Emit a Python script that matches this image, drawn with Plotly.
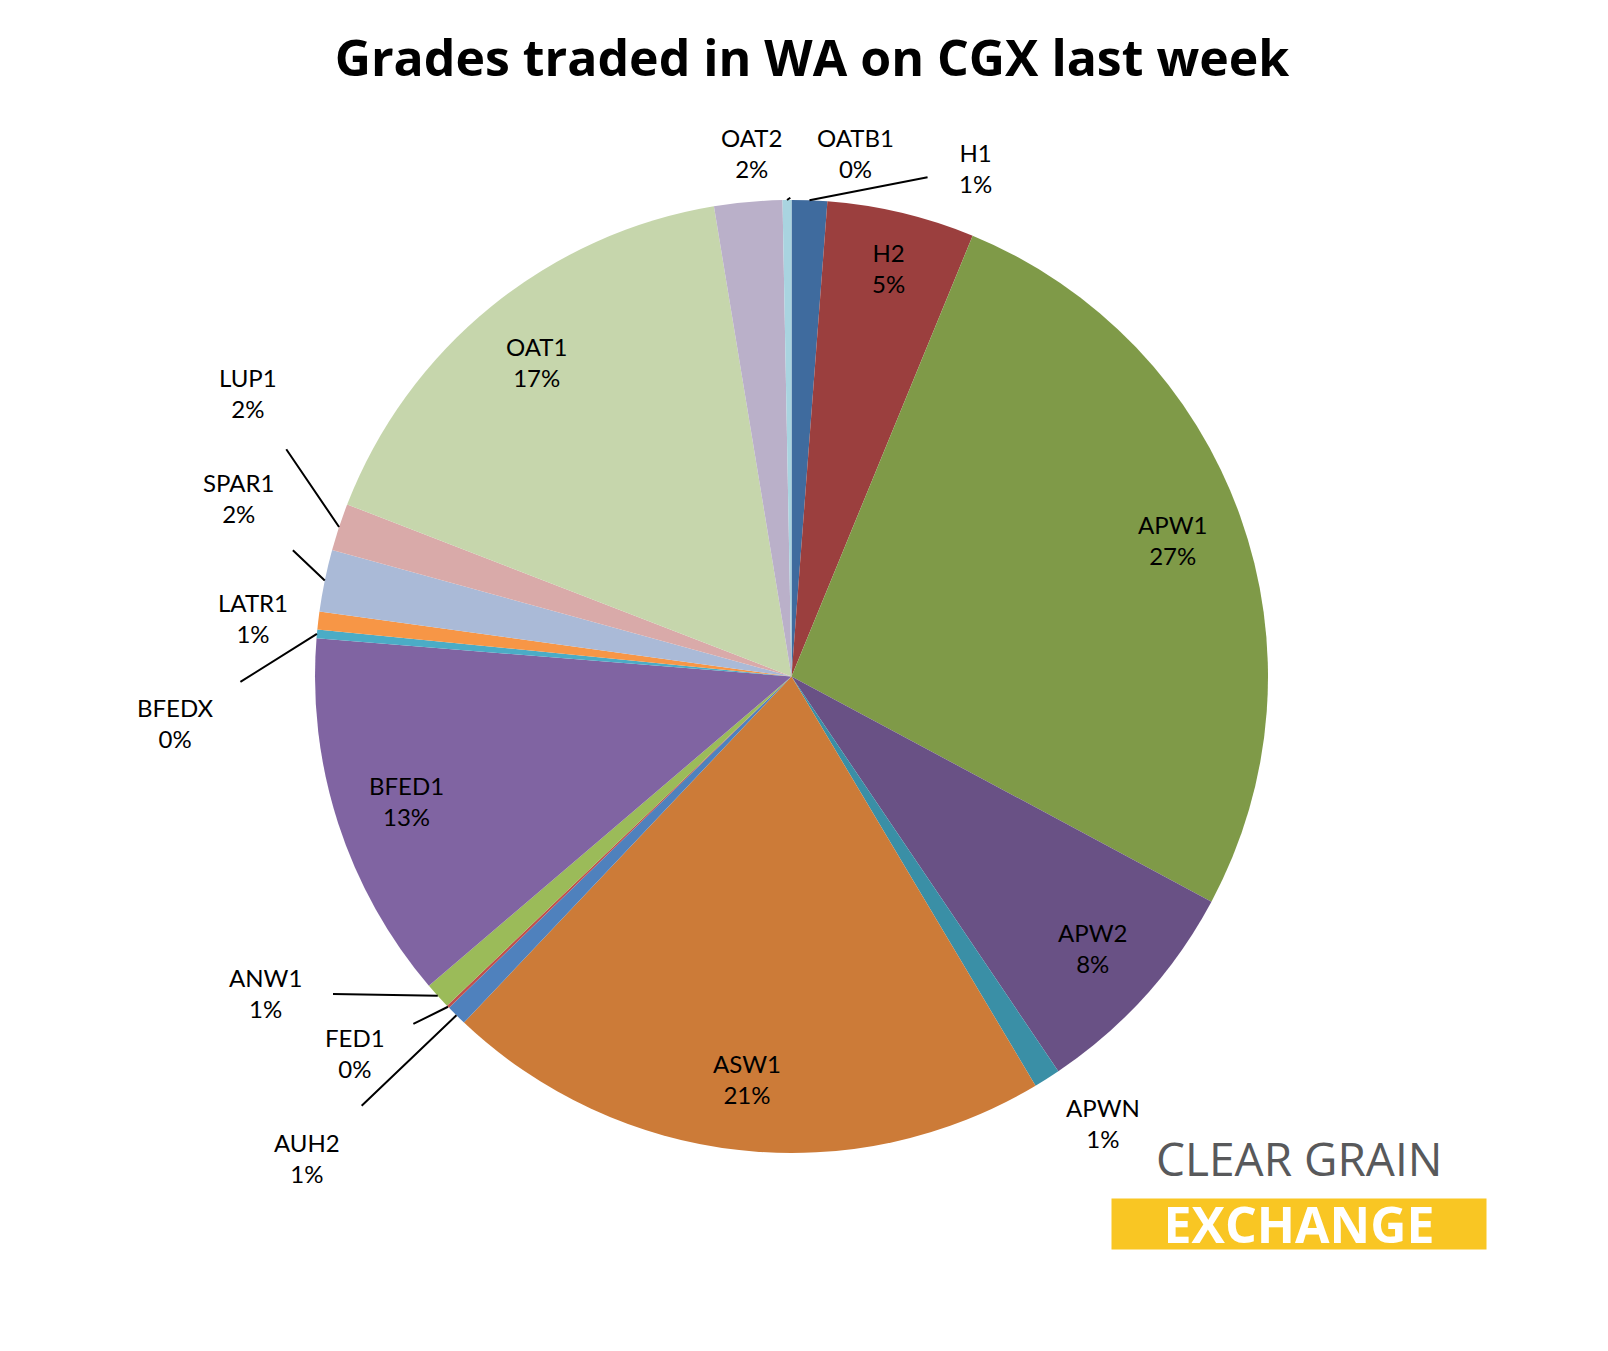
import numpy as np
import plotly.graph_objects as go

grades = ["H1", "H2", "APW1", "APW2", "APWN", "ASW1", "AUH2", "FED1", "ANW1", "BFED1",
          "BFEDX", "LATR1", "SPAR1", "LUP1", "OAT1", "OAT2", "OATB1"]
shares = [1.2, 5.0, 26.6, 7.7, 0.9, 20.6, 0.7, 0.1, 0.9, 12.5,
          0.3, 0.6, 2.1, 1.6, 16.5, 2.3, 0.3]
colours = ["#3f6b9e", "#9b3f3e", "#7f9a48", "#695185", "#3a8fa6", "#cc7b38", "#4f81bd", "#c0504d",
           "#9bbb59", "#8064a2", "#4bacc6", "#f79646", "#aabad7", "#d9aaa9", "#c6d6ac", "#bab0c9", "#a9d4e0"]
big = ["H2", "APW1", "APW2", "ASW1", "BFED1", "OAT1"]

# where the outside labels sit (pixels in the 1608x1351 page)
label_px = {"H1": (967, 160), "OATB1": (847, 145), "OAT2": (743, 145), "LUP1": (240, 385),
            "SPAR1": (230, 490), "LATR1": (245, 610), "BFEDX": (167, 715), "ANW1": (257, 985),
            "FED1": (347, 1045), "AUH2": (299, 1150), "APWN": (1095, 1115)}
no_line = ["OAT2", "APWN"]

W, H = 1608, 1351
cx, cy, r = 783.5, 668.5, 476.5

fig = go.Figure(go.Pie(
    labels=grades, values=shares, sort=False, direction="clockwise", rotation=0,
    marker=dict(colors=colours, line=dict(width=0)),
    textinfo="none", showlegend=False, hoverinfo="label+percent",
    domain=dict(x=[(cx - r) / W, (cx + r) / W], y=[1 - (cy + r) / H, 1 - (cy - r) / H]),
))

total = sum(shares)
cum = np.cumsum([0] + shares)
font = dict(size=24, color="black")
annos = []
for i, g in enumerate(grades):
    mid = (cum[i] + cum[i + 1]) / 2 / total * 2 * np.pi
    pct = round(shares[i] / total * 100)
    text = f"{g}<br>{pct}%"
    if g in big:
        k = 0.88 if g == "H2" else 0.85
        px_, py_ = cx + k * r * np.sin(mid), cy - k * r * np.cos(mid)
        annos.append(dict(x=px_ / W, y=1 - py_ / H, xref="paper", yref="paper", text=text,
                          showarrow=False, xanchor="center", yanchor="middle", font=font))
        continue
    lx, ly = label_px[g]
    if g in no_line:
        annos.append(dict(x=lx / W, y=1 - ly / H, xref="paper", yref="paper", text=text,
                          showarrow=False, xanchor="center", yanchor="middle", font=font))
        continue
    ex, ey = cx + r * np.sin(mid), cy - r * np.cos(mid)
    annos.append(dict(x=ex / W, y=1 - ey / H, xref="paper", yref="paper", text=text,
                      showarrow=True, ax=lx - ex, ay=ly - ey, arrowhead=0, arrowwidth=2,
                      arrowcolor="black", font=font, standoff=0, startstandoff=30))

# logo
annos.append(dict(x=1291 / W, y=1 - 1150 / H, xref="paper", yref="paper", text="CLEAR GRAIN",
                  showarrow=False, xanchor="center", yanchor="middle", borderpad=0,
                  font=dict(size=46, color="#58595b", family="Open Sans")))
annos.append(dict(x=1291 / W, y=1 - 1216 / H, xref="paper", yref="paper", text="<b>EXCHANGE</b>",
                  showarrow=False, xanchor="center", yanchor="middle",
                  bgcolor="#f9c623", width=374, height=50, borderpad=0,
                  font=dict(size=50, color="white", family="Open Sans")))

fig.update_layout(
    width=W, height=H, margin=dict(l=0, r=0, t=0, b=0),
    paper_bgcolor="white", font=dict(family="Lato, Open Sans, sans-serif"),
    title=dict(text="<b>Grades traded in WA on CGX last week</b>", x=0.5, y=1 - 50 / H,
               xanchor="center", yanchor="middle",
               font=dict(size=50, color="black", family="Open Sans")),
    annotations=annos,
)
fig.write_html("out.html")
